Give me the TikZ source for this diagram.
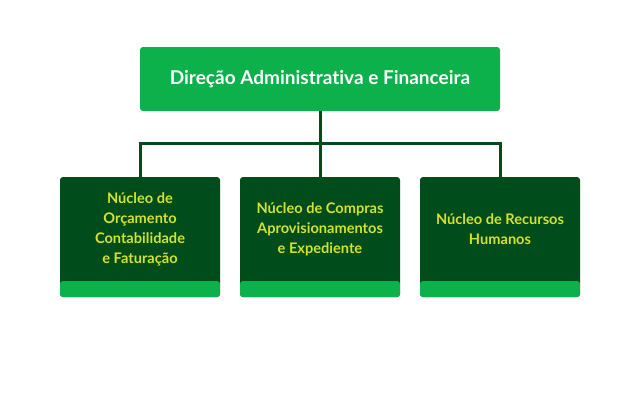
\documentclass[tikz,border=0pt]{standalone}
\usepackage{fontspec}
\setmainfont[Ligatures={NoCommon,NoRare}]{Lato}
\definecolor{verdeclaro}{RGB}{13,177,75}
\definecolor{verdeescuro}{RGB}{0,76,26}
\definecolor{amarelo}{RGB}{212,226,44}
\begin{document}
\begin{tikzpicture}[x=1pt,y=-1pt,font=\bfseries,
	direcao/.style={fill=verdeclaro,text=white,rounded corners=3pt,minimum width=360pt,minimum height=64pt,font=\fontsize{19}{22}\bfseries\selectfont},
	nucleo/.style={fill=verdeescuro,rounded corners=3pt,minimum width=160pt,minimum height=120pt,
		path picture={\fill[verdeclaro] ([yshift=16pt]path picture bounding box.south west) rectangle (path picture bounding box.south east);}},
	texto/.style={text=amarelo,align=center,yshift=8pt,font=\fontsize{14.6}{20}\bfseries\selectfont},
	linha/.style={draw=verdeescuro,line width=3pt}]
	\useasboundingbox (0,0) rectangle (640,400);
	\node[direcao] (dir) at (320,79) {Direção Administrativa e Financeira};
	\node[nucleo,label={[texto]center:{Núcleo de\\Orçamento\\Contabilidade\\e Faturação}}] (orc) at (140,237) {};
	\node[nucleo,label={[texto]center:{Núcleo de Compras\\Aprovisionamentos\\e Expediente}}] (comp) at (320,237) {};
	\node[nucleo,label={[texto]center:{Núcleo de Recursos\\Humanos}}] (rh) at (500,237) {};
	\coordinate (barra) at (320,143);
	% ligacoes
	\draw[linha] (dir.south) -- (comp.north);
	\draw[linha] (orc.north) |- (barra) -| (rh.north);
\end{tikzpicture}
\end{document}
